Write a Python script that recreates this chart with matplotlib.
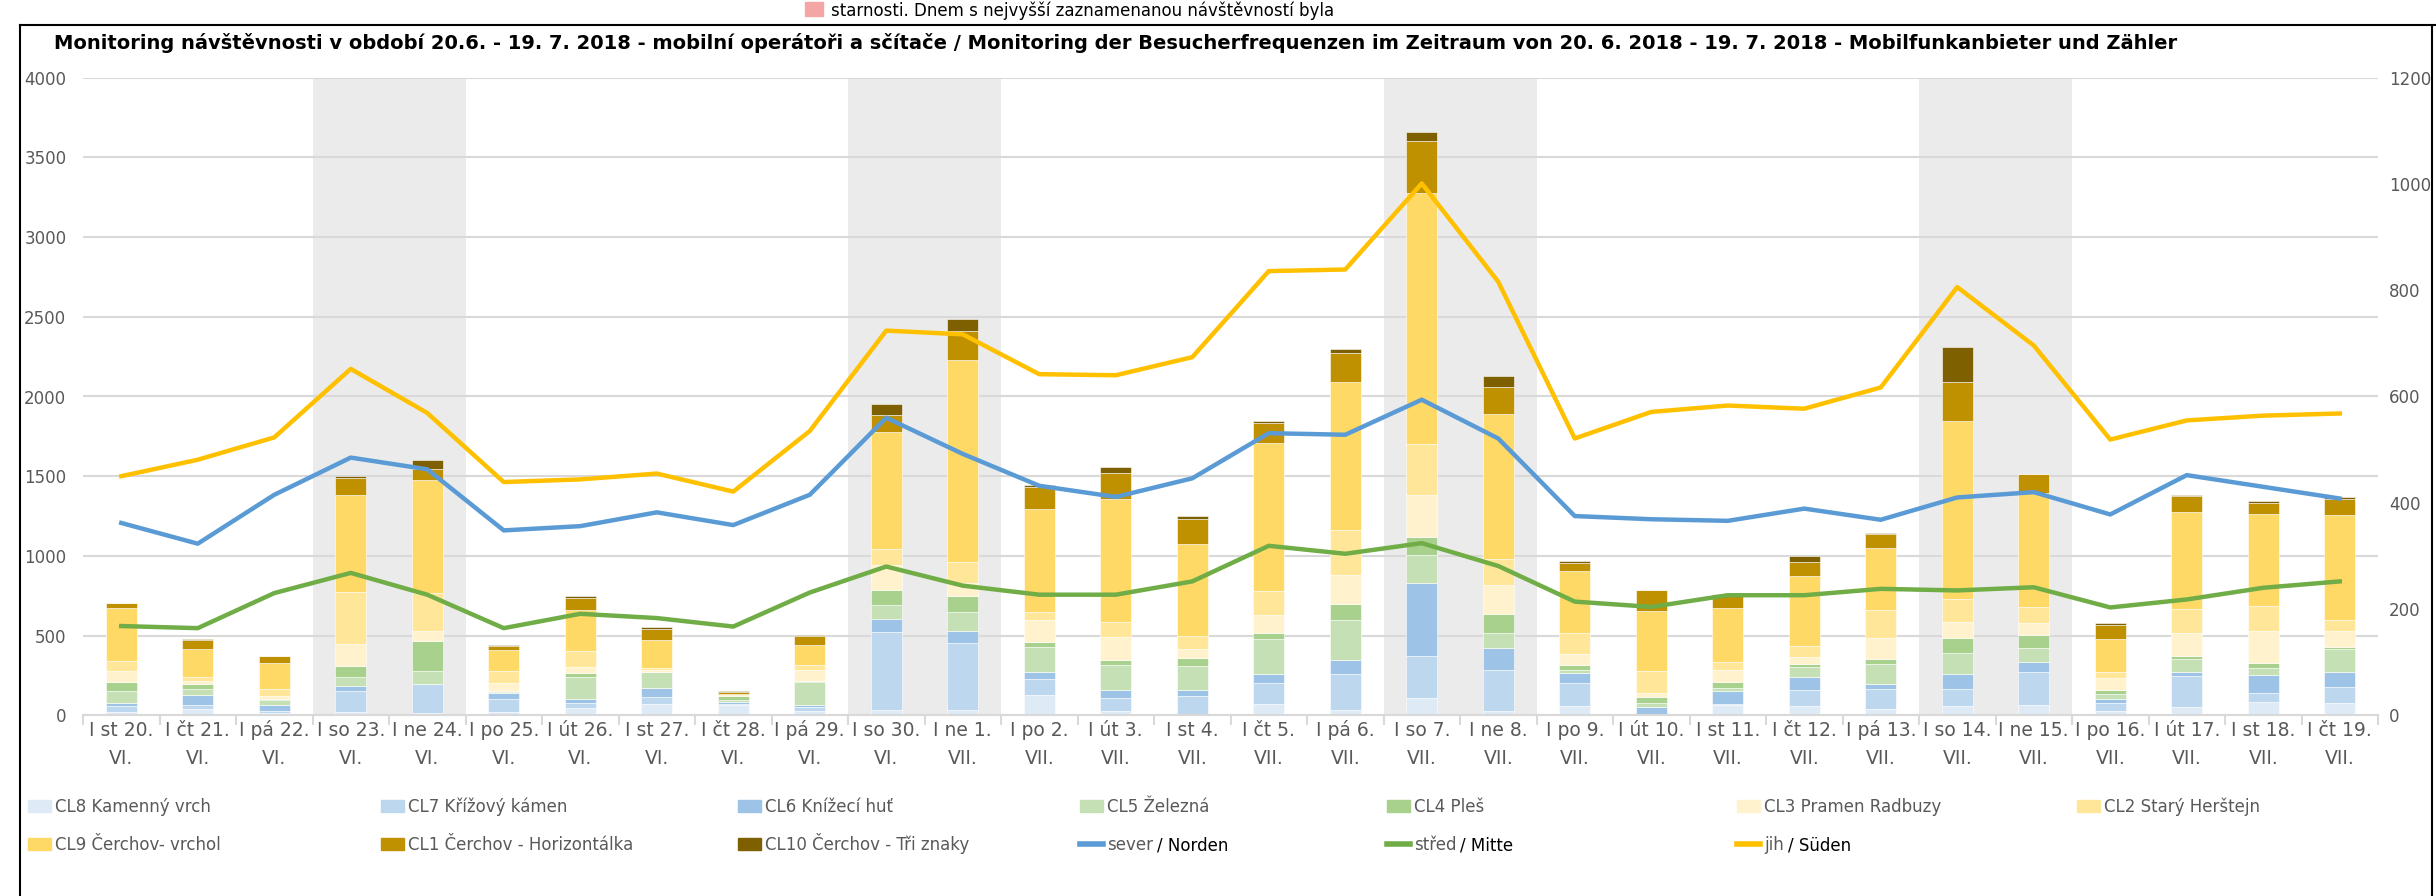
import numpy as np
import matplotlib
matplotlib.use("Agg")
import matplotlib.pyplot as plt
from matplotlib.patches import Rectangle
from matplotlib.lines import Line2D

plt.rcParams['font.family'] = ['DejaVu Sans']

# --- data ---
days = ['st 20.', 'čt 21.', 'pá 22.', 'so 23.', 'ne 24.', 'po 25.', 'út 26.', 'st 27.',
        'čt 28.', 'pá 29.', 'so 30.', 'ne 1.', 'po 2.', 'út 3.', 'st 4.', 'čt 5.',
        'pá 6.', 'so 7.', 'ne 8.', 'po 9.', 'út 10.', 'st 11.', 'čt 12.', 'pá 13.',
        'so 14.', 'ne 15.', 'po 16.', 'út 17.', 'st 18.', 'čt 19.']
months = ['VI.'] * 11 + ['VII.'] * 19

cl8 = [21, 40, 17, 21, 15, 19, 46, 69, 63, 29, 33, 33, 128, 27, 10, 73, 33, 109, 25, 59,
       4, 63, 56, 40, 56, 63, 27, 52, 83, 75]
cl7 = [38, 25, 13, 132, 180, 82, 31, 44, 10, 25, 492, 423, 100, 84, 111, 132, 226, 264, 259, 146,
       4, 10, 103, 126, 109, 211, 52, 197, 60, 102]
cl6 = [18, 63, 36, 31, 0, 38, 25, 61, 8, 10, 80, 73, 44, 50, 40, 54, 88, 460, 138, 63,
       44, 80, 82, 33, 94, 59, 23, 25, 108, 94]
cl5 = [76, 38, 29, 59, 84, 6, 136, 96, 15, 144, 84, 117, 157, 157, 151, 222, 251, 174, 96, 17,
       27, 17, 63, 121, 134, 90, 29, 82, 46, 146]
cl4 = [56, 29, 8, 69, 188, 8, 25, 4, 23, 6, 98, 100, 31, 29, 46, 38, 100, 109, 117, 31,
       36, 40, 19, 33, 94, 79, 25, 19, 33, 13]
cl3 = [69, 21, 21, 134, 63, 48, 42, 8, 2, 69, 157, 82, 138, 144, 56, 111, 182, 267, 182, 69,
       23, 75, 44, 130, 100, 79, 79, 144, 197, 97]
cl2 = [61, 23, 44, 328, 236, 77, 98, 13, 4, 31, 98, 132, 48, 92, 84, 151, 282, 320, 163, 134,
       138, 52, 69, 178, 145, 96, 38, 146, 159, 72]
cl9 = [335, 174, 163, 606, 709, 134, 257, 178, 8, 130, 735, 1270, 649, 775, 575, 925, 926, 1575, 911, 389,
       381, 337, 435, 391, 1113, 715, 203, 612, 579, 658]
cl1 = [31, 59, 38, 107, 71, 23, 77, 71, 13, 52, 107, 179, 136, 162, 159, 128, 184, 322, 171, 50,
       130, 88, 88, 84, 248, 120, 88, 98, 69, 102]
cl10 = [2, 8, 0, 13, 57, 4, 10, 8, 8, 6, 69, 77, 13, 35, 21, 13, 28, 59, 64, 8,
        0, 2, 42, 6, 218, 0, 13, 5, 13, 8]

sever = [362, 323, 415, 485, 463, 348, 356, 382, 358, 415, 560, 492, 432, 411, 446, 531, 528, 594, 521, 375,
         369, 366, 389, 368, 410, 420, 378, 452, 430, 408]
stred = [168, 164, 230, 268, 227, 164, 191, 183, 167, 231, 280, 244, 227, 227, 252, 319, 304, 324, 281, 214,
         204, 226, 226, 238, 235, 241, 203, 218, 240, 252]
jih = [450, 481, 523, 652, 569, 439, 444, 455, 421, 535, 724, 717, 642, 640, 674, 836, 839, 1001, 816, 521,
       571, 583, 577, 617, 806, 696, 519, 555, 564, 568]

bar_series = [
    ('CL8 Kamenný vrch', cl8, '#DEEBF7'),
    ('CL7 Křížový kámen', cl7, '#BDD7EE'),
    ('CL6 Knížecí huť', cl6, '#9DC3E6'),
    ('CL5 Železná', cl5, '#C5E0B4'),
    ('CL4 Pleš', cl4, '#A9D18E'),
    ('CL3 Pramen Radbuzy', cl3, '#FFF2CC'),
    ('CL2 Starý Herštejn', cl2, '#FFE699'),
    ('CL9 Čerchov- vrchol', cl9, '#FFD966'),
    ('CL1 Čerchov - Horizontálka', cl1, '#BF9000'),
    ('CL10 Čerchov - Tři znaky', cl10, '#7F6000'),
]
# (czech part of label, german part, values, colour)
line_series = [
    ('sever', '/ Norden', sever, '#5B9BD5'),
    ('střed', '/ Mitte', stred, '#70AD47'),
    ('jih', '/ Süden', jih, '#FFC000'),
]

title = ("Monitoring návštěvnosti v období 20.6. - 19. 7. 2018 - mobilní operátoři a sčítače"
         " / Monitoring der Besucherfrequenzen im Zeitraum von 20. 6. 2018 - 19. 7. 2018"
         " - Mobilfunkanbieter und Zähler")

W, H = 2436, 896
fig = plt.figure(figsize=(W / 100, H / 100), dpi=100)
grey = '#595959'

ax = fig.add_axes([83 / W, 1 - 715.3 / H, (2378 - 83) / W, (715.3 - 77.7) / H])
x = np.arange(len(days))

# weekend shading
for i, d in enumerate(days):
    if d.startswith('so'):
        ax.axvspan(i - 0.5, i + 1.5, color='#EBEBEB', zorder=0, lw=0)

bottom = np.zeros(len(days))
for name, vals, col in bar_series:
    ax.bar(x, vals, width=0.4, bottom=bottom, color=col, edgecolor='white',
           linewidth=0.4, zorder=2)
    bottom += np.array(vals)

ax.set_xlim(-0.5, len(days) - 0.5)
ax.set_ylim(0, 4000)
ax.set_yticks(np.arange(0, 4001, 500))
ax.yaxis.grid(True, color='#D9D9D9', lw=1.5)
ax.set_axisbelow(True)
for s in ['top', 'right', 'left']:
    ax.spines[s].set_visible(False)
ax.spines['bottom'].set_color('#D9D9D9')
ax.spines['bottom'].set_linewidth(1.5)
ax.set_xticks(x)
ax.set_xticklabels([])
ax.set_xticks(np.arange(-0.5, len(days), 1), minor=True)
ax.tick_params(axis='x', which='major', length=0)
ax.tick_params(axis='x', which='minor', length=7, color='#D9D9D9', width=1.5)
ax.tick_params(axis='y', length=0, labelsize=12, labelcolor=grey, pad=12)

# two-line category labels, same baseline for every day
xt = ax.get_xaxis_transform()
for i, (d, m) in enumerate(zip(days, months)):
    ax.text(i, -0.0317, f'I {d}', transform=xt, ha='center', va='baseline',
            fontsize=13.5, color=grey)
    ax.text(i, -0.0756, m, transform=xt, ha='center', va='baseline',
            fontsize=13.5, color=grey)

ax2 = ax.twinx()
for cz, de, vals, col in line_series:
    ax2.plot(x, vals, color=col, lw=3.2, zorder=3)
ax2.set_ylim(0, 1200)
ax2.set_yticks(np.arange(0, 1201, 200))
ax2.tick_params(axis='y', length=0, labelsize=12, labelcolor=grey, pad=8)
for s in ax2.spines.values():
    s.set_visible(False)

# legend: two rows, seven columns
renderer = fig.canvas.get_renderer()
col_x = [28, 381, 738, 1080, 1387, 1737, 2077]
row_y = [806, 844]
rows = [bar_series[:7], bar_series[7:] + line_series]
for r, row in enumerate(rows):
    yc = row_y[r]
    for cx, entry in zip(col_x, row):
        if len(entry) == 3:
            name, vals, col = entry
            fig.add_artist(Rectangle((cx / W, 1 - (yc + 6) / H), 23 / W, 12 / H,
                                     color=col, transform=fig.transFigure))
            fig.text((cx + 27) / W, 1 - (yc + 6) / H, name, fontsize=12, color=grey,
                     va='baseline', ha='left')
        else:
            cz, de, vals, col = entry
            fig.add_artist(Line2D([cx / W, (cx + 23) / W], [1 - yc / H, 1 - yc / H],
                                  color=col, lw=4))
            t = fig.text((cx + 27) / W, 1 - (yc + 6) / H, cz, fontsize=12, color=grey,
                         va='baseline', ha='left')
            bb = t.get_window_extent(renderer)
            fig.text((bb.x1 + 4) / W, 1 - (yc + 6) / H, de, fontsize=12, color='black',
                     va='baseline', ha='left')

fig.text(54 / W, 1 - 43 / H, title, fontsize=14, fontweight='bold', va='center', ha='left')

# frame of the chart area and the cut-off text above it
fig.add_artist(Line2D([20 / W, 20 / W], [0, 1 - 25 / H], color='black', lw=1.5))
fig.add_artist(Line2D([20 / W, 1], [1 - 25 / H, 1 - 25 / H], color='black', lw=1.5))
fig.add_artist(Line2D([2432 / W, 2432 / W], [0, 1 - 25 / H], color='black', lw=1.5))
fig.add_artist(Rectangle((805 / W, 1 - 16 / H), 18 / W, 14 / H, color='#F4A6A6',
                         transform=fig.transFigure))
fig.text(831 / W, 1 - 1 / H, 'starnosti. Dnem s nejvyšší zaznamenanou návštěvností byla',
         fontsize=12, va='top', ha='left')

fig.savefig('out.png', dpi=100)
